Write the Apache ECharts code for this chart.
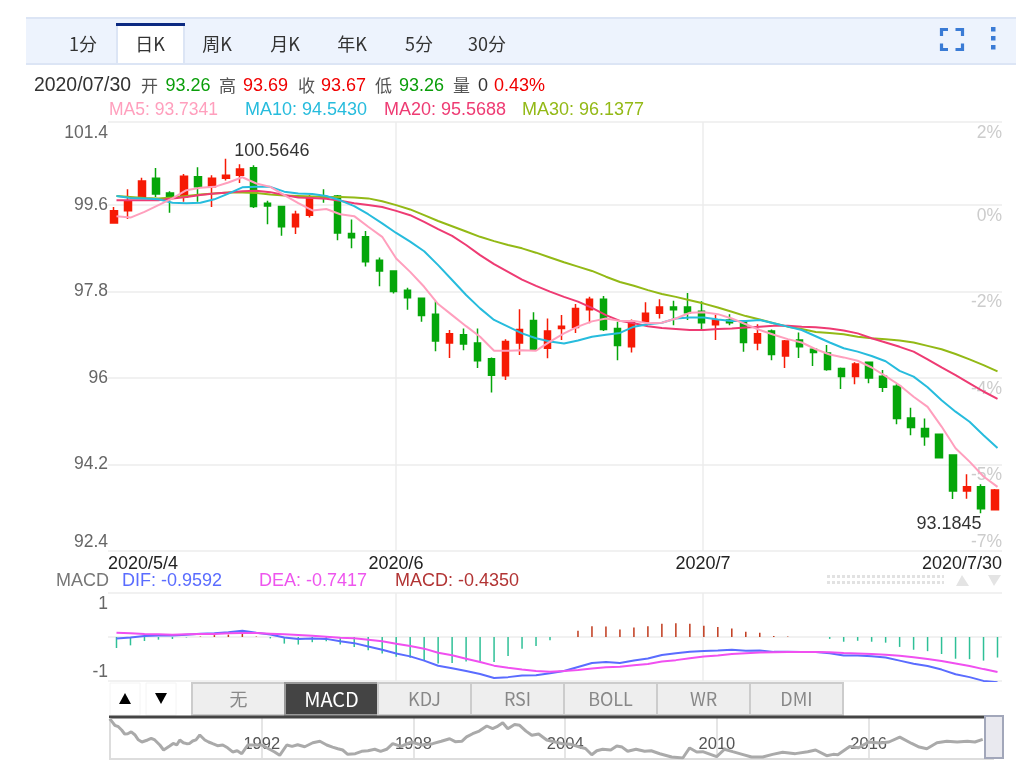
<!DOCTYPE html>
<html><head><meta charset="utf-8">
<style>html,body{margin:0;padding:0;background:#fff}#c{width:1034px;height:778px}</style>
<script src="https://cdn.jsdelivr.net/npm/echarts@6/dist/echarts.min.js"></script>
</head><body><div id="c"></div>
<script>
const dates=['2020/5/4','2020/5/5','2020/5/6','2020/5/7','2020/5/8','2020/5/11','2020/5/12','2020/5/13','2020/5/14','2020/5/15','2020/5/18','2020/5/19','2020/5/20','2020/5/21','2020/5/22','2020/5/25','2020/5/26','2020/5/27','2020/5/28','2020/5/29','2020/6/1','2020/6/2','2020/6/3','2020/6/4','2020/6/5','2020/6/8','2020/6/9','2020/6/10','2020/6/11','2020/6/12','2020/6/15','2020/6/16','2020/6/17','2020/6/18','2020/6/19','2020/6/22','2020/6/23','2020/6/24','2020/6/25','2020/6/26','2020/6/29','2020/6/30','2020/7/1','2020/7/2','2020/7/3','2020/7/6','2020/7/7','2020/7/8','2020/7/9','2020/7/10','2020/7/13','2020/7/14','2020/7/15','2020/7/16','2020/7/17','2020/7/20','2020/7/21','2020/7/22','2020/7/23','2020/7/24','2020/7/27','2020/7/28','2020/7/29','2020/7/30'];
// open, close, low, high
const candles=[[99.23,99.48,99.23,99.56],[99.48,99.69,99.31,99.93],[99.75,100.10,99.73,100.17],[100.16,99.83,99.77,100.37],[99.85,99.75,99.44,99.89],[99.77,100.20,99.67,100.25],[100.19,99.98,99.67,100.39],[99.98,100.16,99.56,100.22],[100.16,100.22,100.11,100.5646],[100.22,100.35,100.06,100.45],[100.38,99.57,99.54,100.43],[99.64,99.58,99.20,99.69],[99.57,99.15,98.96,99.58],[99.15,99.41,99.00,99.48],[99.39,99.73,99.34,99.81],[99.79,99.77,99.65,99.93],[99.79,99.02,98.87,99.81],[99.01,98.92,98.70,99.30],[98.94,98.42,98.32,99.06],[98.45,98.23,97.91,98.51],[98.23,97.80,97.76,98.23],[97.83,97.67,97.42,97.88],[97.66,97.30,97.17,97.66],[97.33,96.77,96.56,97.60],[96.73,96.92,96.42,97.00],[96.90,96.71,96.58,97.03],[96.73,96.36,96.21,97.03],[96.40,96.06,95.70,96.43],[96.05,96.76,95.96,96.81],[96.73,97.01,96.48,97.43],[97.20,96.60,96.58,97.37],[96.62,96.98,96.41,97.24],[97.03,97.08,96.79,97.31],[97.05,97.45,96.94,97.54],[97.42,97.64,97.14,97.69],[97.64,97.01,96.98,97.71],[97.03,96.68,96.37,97.17],[96.65,97.17,96.53,97.22],[97.17,97.35,97.15,97.58],[97.35,97.48,97.24,97.64],[97.48,97.42,97.10,97.61],[97.48,97.36,97.21,97.77],[97.39,97.15,97.01,97.60],[97.11,97.21,96.79,97.31],[97.21,97.15,97.10,97.33],[97.19,96.74,96.55,97.19],[96.73,96.92,96.58,97.12],[96.98,96.49,96.37,97.01],[96.46,96.77,96.21,96.79],[96.79,96.65,96.42,96.95],[96.60,96.53,96.25,96.64],[96.52,96.18,96.15,96.69],[96.20,96.03,95.77,96.22],[96.03,96.29,95.87,96.33],[96.33,96.00,95.89,96.33],[96.04,95.81,95.71,96.17],[95.83,95.16,95.04,95.87],[95.17,94.97,94.81,95.38],[94.95,94.78,94.59,95.16],[94.83,94.34,94.33,94.83],[94.40,93.65,93.48,94.41],[93.65,93.74,93.49,94.00],[93.74,93.28,93.1845,93.79],[93.26,93.67,93.26,93.69]];
const ma5=[99.37,99.34,99.46,99.60,99.74,99.91,99.96,99.98,100.07,100.18,100.05,99.98,99.81,99.64,99.49,99.52,99.41,99.37,99.15,98.94,98.49,98.21,97.90,97.54,97.31,97.08,96.86,96.57,96.57,96.58,96.57,96.76,96.93,97.07,97.18,97.24,97.19,97.19,97.14,97.15,97.24,97.36,97.37,97.33,97.24,97.12,97.00,96.90,96.81,96.74,96.60,96.49,96.43,96.36,96.22,96.04,95.85,95.61,95.40,94.99,94.54,94.26,93.95,93.7341];
const ma10=[99.79,99.75,99.74,99.72,99.65,99.64,99.65,99.72,99.84,99.97,99.98,99.98,99.88,99.84,99.83,99.79,99.70,99.58,99.41,99.22,99.02,98.84,98.64,98.35,98.04,97.73,97.45,97.21,97.07,96.93,96.83,96.76,96.72,96.78,96.86,96.90,96.94,97.07,97.12,97.15,97.24,97.26,97.26,97.22,97.19,97.19,97.21,97.14,97.07,97.00,96.87,96.74,96.62,96.55,96.46,96.35,96.15,96.03,95.81,95.54,95.30,95.09,94.81,94.5430];
const ma20=[99.70,99.70,99.70,99.70,99.74,99.77,99.81,99.84,99.86,99.89,99.90,99.87,99.81,99.76,99.75,99.73,99.69,99.64,99.60,99.56,99.48,99.39,99.25,99.10,98.96,98.77,98.56,98.37,98.21,98.05,97.92,97.80,97.69,97.59,97.46,97.31,97.19,97.14,97.08,97.04,97.02,97.00,97.00,97.02,97.03,97.05,97.07,97.09,97.09,97.07,97.06,97.03,96.99,96.93,96.83,96.74,96.65,96.55,96.39,96.22,96.06,95.89,95.72,95.5688];
const ma30=[99.79,99.77,99.75,99.74,99.76,99.79,99.82,99.84,99.86,99.86,99.85,99.82,99.80,99.79,99.78,99.77,99.77,99.76,99.74,99.68,99.60,99.51,99.39,99.27,99.16,99.05,98.94,98.85,98.77,98.70,98.61,98.51,98.41,98.32,98.23,98.11,98.00,97.92,97.83,97.75,97.69,97.62,97.55,97.47,97.38,97.29,97.22,97.14,97.07,97.02,96.96,96.94,96.91,96.86,96.83,96.81,96.78,96.74,96.67,96.60,96.50,96.39,96.27,96.1377];
const dif=[-.03,-.01,.02,.03,.03,.05,.07,.08,.10,.13,.09,.055,-.01,-.04,-.03,-.04,-.09,-.13,-.20,-.27,-.35,-.41,-.50,-.61,-.66,-.72,-.785,-.87,-.85,-.815,-.81,-.77,-.72,-.635,-.55,-.53,-.55,-.50,-.455,-.38,-.345,-.31,-.295,-.285,-.27,-.29,-.285,-.315,-.315,-.32,-.32,-.345,-.39,-.39,-.41,-.435,-.50,-.565,-.615,-.69,-.79,-.85,-.93,-.9592];
const dea=[.092,.078,.064,.056,.049,.056,.064,.064,.078,.085,.085,.071,.056,.042,.028,.007,-.014,-.028,-.056,-.092,-.141,-.191,-.247,-.332,-.388,-.459,-.530,-.607,-.650,-.69,-.72,-.735,-.72,-.70,-.665,-.64,-.63,-.60,-.57,-.52,-.49,-.45,-.415,-.39,-.36,-.345,-.33,-.325,-.32,-.32,-.32,-.325,-.34,-.35,-.36,-.375,-.395,-.43,-.465,-.51,-.56,-.615,-.68,-.7417];
const macd=[-.233,-.177,-.085,-.056,-.042,-.01,.01,.04,.05,.08,.01,-.03,-.14,-.16,-.11,-.09,-.16,-.21,-.28,-.35,-.42,-.44,-.51,-.56,-.55,-.52,-.51,-.53,-.40,-.25,-.19,-.07,0,.13,.23,.22,.16,.20,.23,.28,.29,.28,.24,.21,.18,.11,.09,.02,.01,0,0,-.04,-.10,-.08,-.10,-.12,-.21,-.27,-.30,-.36,-.46,-.47,-.50,-.435];
const priceTicks=[92.4,94.2,96,97.8,99.6,101.33];
const priceLabels=['92.4','94.2','96','97.8','99.6','101.4'];
const pctLabels=['-7%','-5%','-4%','-2%','0%','2%'];
const dateTicks=[0,20.62,42.6,64];
const dateLabels=['2020/5/4','2020/6','2020/7','2020/7/30'];
const macdTicks=[-0.932,0,0.932];
const macdLabels=['-1','','1'];
const navYearTicks=[1992,1998,2004,2010,2016];
const navYears=[1985.99,1986.19,1986.46,1986.70,1986.98,1987.26,1987.49,1987.77,1987.97,1988.12,1988.36,1988.64,1988.76,1989.03,1989.27,1989.55,1989.75,1990.06,1990.46,1990.85,1991.21,1991.45,1992,1992.51,1992.71,1992.99,1993.42,1994.02,1994.57,1995.01,1995.40,1995.95,1996.47,1996.94,1997.18,1997.93,1998.76,1999.43,1999.91,2000.34,2000.90,2001.13,2001.53,2001.73,2002.20,2002.68,2003.27,2003.90,2004.57,2005.05,2005.48,2006.04,2006.47,2007.14,2007.74,2008.21,2008.65,2008.92,2009.20,2009.44,2009.99,2010.62,2011.37,2011.81,2012.60,2013.59,2014.34,2014.78,2015.25,2016.44,2017.23,2018.30,2019.09,2020.51,
 1986.08,1986.33,1986.58,1986.84,1987.12,1987.63,1988.5,1988.9,1989.15,1989.4,1989.9,1990.25,1990.65,1991.03,1993.2,1993.7,1994.3,1994.8,1995.2,1995.7,1996.2,1996.7,1997.5,1998.3,1999.1,1999.65,2000.1,2000.6,2001.3,2002,2002.45,2002.95,2004.2,2004.8,2005.25,2005.8,2006.25,2006.8,2007.4,2010.3,2011,2012.2,2013.1,2013.9,2014.6,2015.6,2016,2016.8,2017.7,2018,2018.7,2019.5,2019.9,2020.2];
const navValues=[124,115,108.5,103.4,102,92,94.8,94.8,87.9,81,86.5,87.9,94.8,89.7,93.4,101.6,94.8,89.7,87.9,78.3,75.9,87.9,87.9,78.3,73.7,87.9,88.3,91,87.9,82.8,75.1,79.2,82,82,89.7,92,89.7,96.5,93,103.4,114,110.3,118.5,110.3,115,101.2,94.8,89.7,85.1,74.5,82,86.5,79.2,79.2,75.9,71.4,70,83.8,78.3,78.7,71.8,78.7,71.4,71.4,77.8,78.7,73.2,74.5,85.8,90.5,98.7,82.8,92.9,95.6,
 120,113,103,106,95,97,90,91,90,95,92,87,84,80,86,85.5,93,85,81,76,80,79,86,88,93,92.5,99,107,113,116,107,103,89,83,80,81,85,82,80,82,75,75,76,81,75,84,92,92,90,85,91,92,93,92];
const tabs=['1分','日K','周K','月K','年K','5分','30分'];
const indicators=['无','MACD','KDJ','RSI','BOLL','WR','DMI'];

const SANS='"Liberation Sans","Noto Sans CJK SC",sans-serif', CJK='"Noto Sans CJK SC","Liberation Sans",sans-serif';
const RED='#f61a05',GREEN='#05a60a';
const FS=18, YFS=17.5;
const lk=(t,l)=>v=>{const i=t.indexOf(v);return i<0?'':l[i]};
const G=[];
const rect=(x,y,w,h,fill,stroke,lw,z)=>G.push({type:'rect',silent:true,z:z||1,shape:{x,y,width:w,height:h},style:{fill:fill||'transparent',stroke:stroke||null,lineWidth:lw||0}});
const line=(x1,y1,x2,y2,stroke,lw,dash)=>G.push({type:'line',silent:true,z:2,shape:{x1,y1,x2,y2},style:{stroke,lineWidth:lw,lineDash:dash||null}});
const text=(x,y,t,fill,size,align,font)=>G.push({type:'text',silent:true,z:3,x,y,style:{text:t,fill,font:size+'px '+(font||SANS),textAlign:align||'left',textVerticalAlign:'middle'}});
const poly=(pts,fill)=>G.push({type:'polygon',silent:true,z:3,shape:{points:pts},style:{fill}});

// tab strip
rect(26,18,990,46,'#edf3fd');
line(26,18,1016,18,'#dce5f5',2);line(26,64,1016,64,'#dce5f5',2);
rect(117,25,67,40,'#fff');
line(117,25,117,64,'#dce5f5',2);line(184,25,184,64,'#dce5f5',2);
line(116,24.5,185,24.5,'#0c2a82',3);
[83,150,217,285,352,419,487].forEach((x,i)=>text(x,44,tabs[i],'#333',18,'center',CJK));
const ic='#3a7bd5';
[[941.5,36,941.5,29.5,948,29.5],[955.5,29.5,962.5,29.5,962.5,36],[941.5,43.5,941.5,49.5,948,49.5],[955.5,49.5,962.5,49.5,962.5,43.5]].forEach(p=>G.push({type:'polyline',silent:true,z:3,shape:{points:[[p[0],p[1]],[p[2],p[3]],[p[4],p[5]]]},style:{stroke:ic,lineWidth:3.2,fill:'none'}}));
[27,36,45].forEach(y=>rect(991,y,4.5,4.5,ic,null,0,3));

// info rows
const GRN='#0a9e0a',RD='#f00000',KEY='#555';
text(34,86,'2020/07/30','#333',19.4);
text(141,86,'开',KEY,17,'left',CJK);text(165.5,86,'93.26',GRN,18);
text(219,86,'高',KEY,17,'left',CJK);text(243,86,'93.69',RD,18);
text(298,86,'收',KEY,17,'left',CJK);text(321,86,'93.67',RD,18);
text(375,86,'低',KEY,17,'left',CJK);text(399,86,'93.26',GRN,18);
text(453,86,'量',KEY,17,'left',CJK);text(478,86,'0','#333',18);text(494,86,'0.43%',RD,18);
text(109,110,'MA5: 93.7341','#ff9fbd',YFS);
text(245,110,'MA10: 94.5430','#27bcdd',FS);
text(384,110,'MA20: 95.5688','#ee3b73',FS);
text(522,110,'MA30: 96.1377','#93b916',FS);
text(56,581,'MACD','#777',FS);
text(122,581,'DIF: -0.9592','#5a6cff',FS);
text(259,581,'DEA: -0.7417','#ee55ee',FS);
text(395,581,'MACD: -0.4350','#b23434',FS);
// dotted strip and arrows
line(827,576.5,944,576.5,'#e2e2e2',3,[3,2]);line(827,582.5,944,582.5,'#e2e2e2',3,[3,2]);
poly([[956,586],[962,575],[969,586]],'#e4e4e4');poly([[988,575],[1001,575],[994,586]],'#e4e4e4');
// indicator buttons
rect(110,683,30,32,'#fff','#f4f4f4',1);rect(146,683,30,32,'#fff','#f4f4f4',1);
poly([[119,704],[125,693],[131,704]],'#000');poly([[155,693],[167,693],[161,704]],'#000');
indicators.forEach((t,i)=>{const x=192+i*93,on=i===1;
  rect(x,683,93,32,on?'#444':'#eee',on?'#999':'#ccc',2);
  text(x+46.5,699,t,on?'#fff':'#888',on?20:18,'center',CJK);});
// navigator frame
line(109,717,985,717,'#444',3);
line(110,718,110,759,'#ddd',2);line(109,759,994,759,'#ddd',2);
rect(985,716,18,42,'#e9e9ef','#a2a7ba',2,5);
line(992.5,716,992.5,758,'#a2a7ba',2);

const hiddenX=(g,d)=>({type:'category',gridIndex:g,data:d,show:false});
const hiddenY=(g,min,max)=>({type:'value',gridIndex:g,min,max,show:false,splitLine:{show:false}});
const splitC={show:true,lineStyle:{color:'#ececec',width:1.5}};
const nav=navYears.map((y,i)=>[y,navValues[i]]).sort((a,b)=>a[0]-b[0]);
const option={
  animation:false,
  graphic:{elements:G},
  grid:[
    {left:107,width:895,top:122,height:429},   // candles
    {left:109.5,width:895,top:122,height:429}, // MA lines
    {left:108,width:894,top:122,height:429},   // price axes, date axis
    {left:109.5,width:895,top:593,height:88},  // macd marks
    {left:108,width:894,top:593,height:88},    // macd axes
    {left:110,width:875,top:718,height:40}     // navigator
  ],
  xAxis:[
    hiddenX(0,dates),hiddenX(1,dates),
    {type:'value',gridIndex:2,min:0,max:64,axisLine:{show:false},axisTick:{show:false,customValues:dateTicks},
     splitLine:Object.assign({showMinLine:false,showMaxLine:false},splitC),
     axisLabel:{customValues:dateTicks,formatter:lk(dateTicks,dateLabels),color:'#222',fontSize:FS,fontFamily:SANS,margin:4,alignMinLabel:'left',alignMaxLabel:'right',hideOverlap:false,showMinLabel:true,showMaxLabel:true}},
    hiddenX(3,dates),
    {type:'value',gridIndex:4,min:0,max:64,axisLine:{show:false},axisTick:{show:false,customValues:dateTicks},axisLabel:{show:false},
     splitLine:Object.assign({showMinLine:false,showMaxLine:false},splitC)},
    {type:'value',gridIndex:5,min:1986,max:2020.6,axisLine:{show:false},axisTick:{show:false,customValues:navYearTicks},
     splitLine:{show:true,lineStyle:{color:'#ddd',width:1.5}},
     axisLabel:{inside:true,customValues:navYearTicks,formatter:v=>String(v),color:'#555',fontSize:16.5,fontFamily:SANS,margin:5}}
  ],
  yAxis:[
    hiddenY(0,92.4,101.33),hiddenY(1,92.4,101.33),
    {type:'value',gridIndex:2,min:92.4,max:101.33,axisLine:{show:false},axisTick:{show:false,customValues:priceTicks},splitLine:splitC,
     axisLabel:{customValues:priceTicks,formatter:lk(priceTicks,priceLabels),color:'#666',fontSize:YFS,fontFamily:SANS,margin:0,padding:[2,0,0,0],verticalAlignMinLabel:'bottom',verticalAlignMaxLabel:'top'}},
    {type:'value',gridIndex:2,position:'right',min:92.4,max:101.33,axisLine:{show:false},axisTick:{show:false},splitLine:{show:false},
     axisLabel:{inside:true,customValues:priceTicks,formatter:lk(priceTicks,pctLabels),color:'#ccc',fontSize:YFS,fontFamily:SANS,margin:0,padding:[2,0,0,0],verticalAlign:'top',verticalAlignMinLabel:'bottom'}},
    hiddenY(3,-0.932,0.932),
    {type:'value',gridIndex:4,min:-0.932,max:0.932,axisLine:{show:false},axisTick:{show:false,customValues:macdTicks},splitLine:splitC,
     axisLabel:{customValues:macdTicks,formatter:lk(macdTicks,macdLabels),color:'#666',fontSize:YFS,fontFamily:SANS,margin:0,padding:[2,0,0,0],verticalAlignMinLabel:'bottom',verticalAlignMaxLabel:'top'}},
    hiddenY(5,70,125)
  ],
  series:[
    {type:'candlestick',name:'K',xAxisIndex:0,yAxisIndex:0,barWidth:6.8,data:candles,z:3,
     itemStyle:{color:RED,color0:GREEN,borderColor:RED,borderColor0:GREEN,borderWidth:1.5},
     markPoint:{symbol:'circle',symbolSize:0,silent:true,animation:false,data:[
       {coord:[8,100.5646],label:{show:true,position:'inside',formatter:'100.5646',offset:[46,-8],color:'#333',fontSize:18,fontFamily:SANS}},
       {coord:[62,93.1845],label:{show:true,position:'inside',formatter:'93.1845',offset:[-32,11],color:'#333',fontSize:18,fontFamily:SANS}}
     ]}},
    ...[[ma30,'#93b916'],[ma20,'#ee3b73'],[ma10,'#27bcdd'],[ma5,'#ff9fbd']].map(([d,c])=>({type:'line',xAxisIndex:1,yAxisIndex:1,data:d,showSymbol:false,z:4,lineStyle:{color:c,width:2},itemStyle:{color:c}})),
    {type:'bar',xAxisIndex:3,yAxisIndex:4,barWidth:1.5,data:macd,z:2,itemStyle:{color:p=>p.value>=0?'#c0391b':'#2fc097'}},
    {type:'line',xAxisIndex:3,yAxisIndex:4,data:dif,showSymbol:false,z:3,lineStyle:{color:'#5a6cff',width:2}},
    {type:'line',xAxisIndex:3,yAxisIndex:4,data:dea,showSymbol:false,z:4,lineStyle:{color:'#f050f0',width:2}},
    {type:'line',xAxisIndex:5,yAxisIndex:6,data:nav,showSymbol:false,z:2,lineStyle:{color:'#aaa',width:3}}
  ]
};
echarts.init(document.getElementById('c'),null,{renderer:'canvas'}).setOption(option);
</script></body></html>
